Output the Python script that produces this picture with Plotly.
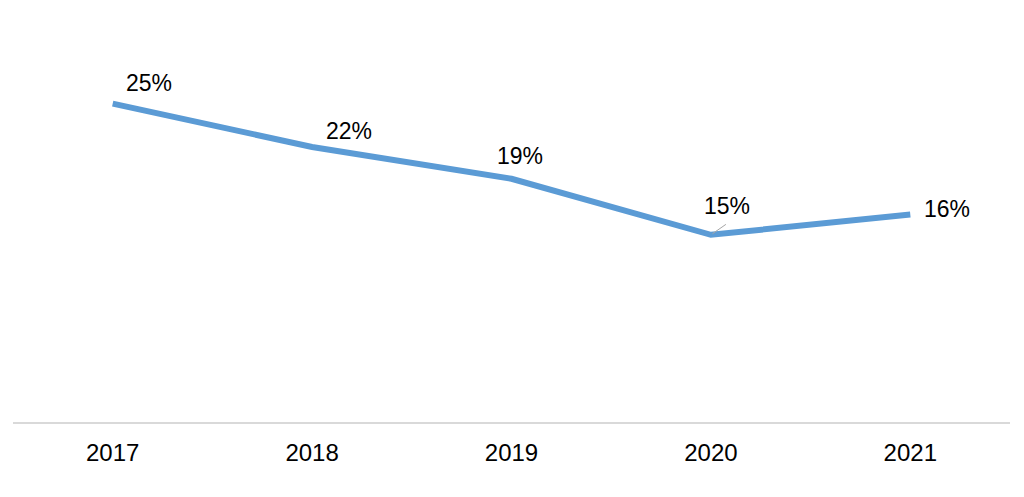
import plotly.graph_objects as go

years = ["2017", "2018", "2019", "2020", "2021"]
share = [25.0, 21.6, 19.1, 14.7, 16.3]
labels = ["25%", "22%", "19%", "15%", "16%"]

label_dx = [36, 37, 8, 16, 37]
label_dy = [21, 16, 22.5, 28.5, 5]

fig = go.Figure()
fig.add_trace(go.Scatter(
    x=years, y=share, mode="lines",
    line=dict(color="#5B9BD5", width=6),
    hoverinfo="skip", showlegend=False,
))

# category positions by index (numeric-looking category names)
for i, (v, lab, dx, dy) in enumerate(zip(share, labels, label_dx, label_dy)):
    fig.add_annotation(
        x=i, y=v, xref="x", yref="y", text=lab, showarrow=False,
        xanchor="center", yanchor="middle",
        xshift=dx, yshift=dy,
        font=dict(family="Liberation Sans, Arial, sans-serif", size=23, color="#000000"),
    )

# leader line for the 2020 label
fig.add_annotation(
    x=3, y=share[3], xref="x", yref="y", text="", showarrow=True,
    ax=16.5, ay=-11.5, arrowhead=0, arrowwidth=1, arrowcolor="#A6A6A6", standoff=2,
)

fig.update_layout(
    width=1024, height=497,
    margin=dict(l=5, r=22, t=32, b=83),
    paper_bgcolor="white", plot_bgcolor="white",
    xaxis=dict(
        type="category", range=[-0.5, 4.5],
        showline=True, linecolor="#D9D9D9", linewidth=2,
        showgrid=False, zeroline=False, ticks="",
        ticklabelstandoff=8,
        tickfont=dict(family="Liberation Sans, Arial, sans-serif", size=24, color="#000000"),
    ),
    yaxis=dict(visible=False, range=[0, 30], showgrid=False, zeroline=False),
)

fig.write_html("out.html")
